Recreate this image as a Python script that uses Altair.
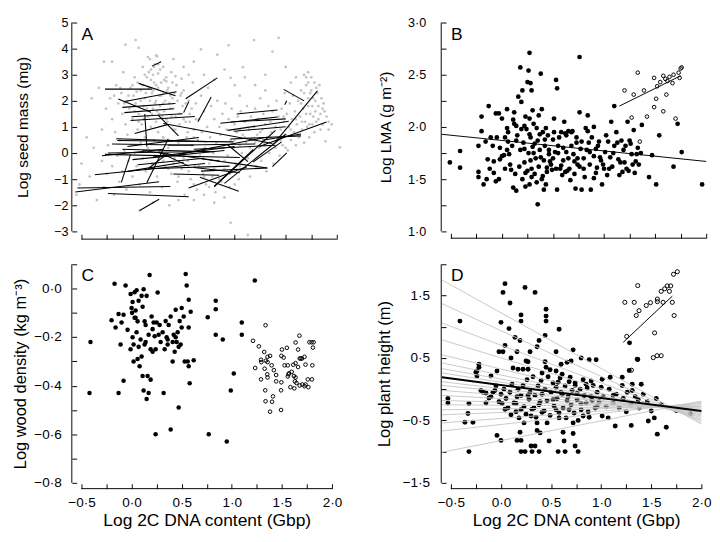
import altair as alt
import pandas as pd

FONT = "Liberation Sans"

# ---------------- Panel A: seed mass ----------------
a_grey = [
    (-0.45,0.6),(-0.5,-0.4),(-0.52,-1.2),(-0.55,-1.6),(-0.42,-0.9),(-0.38,0.2),(-0.35,-1.8),(-0.33,2.5),(-0.3,0.9),(-0.3,-0.3),
    (-0.28,-1.3),(-0.26,1.7),(-0.25,-0.8),(-0.24,0.3),(-0.22,2.1),(-0.2,1.3),(-0.2,-0.5),(-0.18,-1.6),(-0.17,0.8),(-0.16,2.6),
    (-0.15,-0.1),(-0.14,1.9),(-0.13,-1.1),(-0.12,0.5),(-0.11,2.3),(-0.1,1.5),(-0.1,-0.7),(-0.09,3.1),(-0.08,0.1),(-0.07,1.1),
    (-0.06,-1.4),(-0.05,2.0),(-0.05,0.7),(-0.04,-0.3),(-0.03,1.7),(-0.02,2.5),(-0.01,0.3),(0.0,-0.9),(0.0,1.3),(0.01,2.2),
    (0.02,0.0),(0.03,1.9),(0.04,-0.5),(0.05,2.7),(0.05,0.9),(0.06,1.5),(0.07,-1.2),(0.08,2.4),(0.08,0.4),(0.09,1.1),
    (0.1,3.3),(0.1,-0.2),(0.11,1.8),(0.12,2.1),(0.12,0.6),(0.13,-0.7),(0.14,2.9),(0.15,1.4),(0.15,0.2),(0.16,2.5),
    (0.17,-1.5),(0.17,3.6),(0.18,1.0),(0.19,2.3),(0.19,-0.4),(0.2,3.0),(0.2,1.7),(0.21,0.5),(0.21,2.7),(0.22,3.4),
    (0.22,-0.1),(0.23,2.0),(0.23,1.2),(0.24,3.7),(0.24,-0.9),(0.25,2.5),(0.25,0.8),(0.26,1.5),(0.27,3.2),(0.27,0.1),
    (0.28,2.2),(0.29,-1.3),(0.3,1.9),(0.3,0.6),(0.31,2.8),(0.32,-0.5),(0.33,1.3),(0.34,2.4),(0.35,0.2),(0.36,-2.0),
    (0.37,1.7),(0.38,-0.8),(0.39,2.1),(0.4,0.9),(0.41,-0.2),(0.42,1.4),(0.43,2.6),(0.44,-1.1),(0.45,0.4),(0.46,1.1),
    (0.47,2.2),(0.48,-0.6),(0.49,1.8),(0.5,0.0),(0.5,2.4),(0.51,-1.6),(0.52,1.2),(0.53,0.6),(0.54,-0.3),(0.55,2.0),
    (0.56,1.5),(0.57,-1.0),(0.58,0.3),(0.59,2.7),(0.6,0.9),(0.61,-0.5),(0.62,1.9),(0.63,-1.4),(0.64,0.5),(0.65,1.3),
    (0.66,-0.1),(0.67,2.2),(0.68,0.8),(0.69,-0.8),(0.7,1.6),(0.71,0.2),(0.72,-1.2),(0.73,1.0),(0.74,2.5),(0.75,-0.4),
    (0.76,0.6),(0.77,1.8),(0.78,-0.9),(0.79,0.0),(0.8,1.3),(0.81,-1.5),(0.82,0.4),(0.83,2.0),(0.84,-0.3),(0.85,1.0),
    (0.86,0.7),(0.87,-1.1),(0.88,1.5),(0.89,0.2),(0.9,-0.6),(0.91,1.9),(0.92,0.9),(0.93,-0.1),(0.94,1.3),(0.95,-1.3),
    (0.96,0.5),(0.97,1.7),(0.98,-0.7),(0.99,0.2),(1.0,1.1),(1.01,-0.4),(1.02,0.8),(1.03,1.4),(1.04,-1.0),(1.05,0.3),
    (1.06,1.6),(1.07,0.0),(1.08,0.7),(1.09,-0.6),(1.1,1.2),(1.11,0.4),(1.12,1.8),(1.13,-0.2),(1.14,0.9),(1.15,-0.9),
    (1.16,1.4),(1.17,0.5),(1.18,0.1),(1.19,1.0),(1.2,1.7),(1.21,-0.5),(1.22,0.7),(1.23,1.3),(1.24,0.2),(1.25,2.1),
    (1.26,-0.3),(1.27,0.9),(1.28,1.5),(1.29,0.4),(1.3,1.1),(1.31,-0.7),(1.32,0.6),(1.33,1.8),(1.34,0.0),(1.35,1.2),
    (1.36,0.8),(1.37,1.6),(1.38,-0.4),(1.39,0.4),(1.4,1.0),(1.41,2.0),(1.42,0.6),(1.43,1.4),(1.44,-0.1),(1.45,0.9),
    (1.46,1.7),(1.47,0.3),(1.48,1.2),(1.49,2.3),(1.5,0.7),(1.51,1.5),(1.52,0.1),(1.53,1.0),(1.54,1.9),(1.55,0.5),
    (1.56,1.3),(1.57,2.2),(1.58,0.8),(1.59,1.6),(1.6,0.3),(1.61,1.1),(1.62,2.0),(1.63,0.6),(1.64,1.4),(1.65,2.4),
    (1.66,0.9),(1.67,1.7),(1.68,0.4),(1.69,1.2),(1.7,2.6),(1.71,1.0),(1.72,1.8),(1.73,0.6),(1.74,1.5),(1.75,2.9),
    (1.76,1.1),(1.77,2.1),(1.78,0.8),(1.79,1.6),(1.8,2.5),(1.82,1.3),(1.84,0.9),(1.86,1.7),(1.89,0.45),(1.92,1.2),
    (2.03,0.22),(0.96,-2.67),(1.13,-3.14),(0.07,-2.2),(0.2,-1.9),(0.45,-1.8),(-0.4,2.1),(-0.2,3.5),(0.83,3.77),(0.94,4.13),
    (1.19,4.33),(1.43,4.41),(1.37,3.89),(1.08,3.29),(0.96,2.88),(1.2,2.6),(1.3,2.4),(1.05,2.2),(0.67,3.97),(0.6,3.5),
    (1.55,2.7),(1.6,2.9),(1.68,3.0),(1.72,2.7),(1.74,2.3),(-0.28,3.5),(-0.07,4.15),(0.03,4.33),(0.06,4.03),(0.15,3.68),
    (0.23,3.74),(0.48,2.85),(0.38,3.1),(0.42,2.95),(0.33,2.75),(0.3,3.3),(0.18,3.2),(0.25,3.05),(0.12,3.0),(0.02,2.9),
    (-0.18,2.2),(-0.12,2.5),(-0.08,1.9),(-0.04,2.2),(0.0,2.6),(0.02,1.6),(0.04,2.35),(0.06,1.2),(0.08,2.0),(0.1,2.6),
    (0.11,1.3),(0.13,2.3),(0.14,1.7),(0.16,3.1),(0.17,2.0),(0.18,2.8),(0.19,1.5),(0.2,2.4),(0.21,3.3),(0.22,1.9),
    (0.23,2.6),(0.24,1.6),(0.25,3.4),(0.26,2.2),(0.27,1.8),(0.28,2.7),(0.29,1.4),(0.3,2.3),(0.31,1.6),(0.32,2.0),
    (0.33,2.9),(0.34,1.2),(0.35,2.5),(0.36,1.9),(0.37,2.2),(0.38,1.4),(0.39,2.7),(0.4,1.7),(0.41,2.3),(0.42,0.9),
    (0.44,2.0),(0.46,1.5),(0.48,2.3),(0.5,1.3),(0.52,1.9),(0.54,0.8),(0.56,1.2),(0.58,1.7),(0.6,0.6),(0.62,1.3),
    (0.3,-0.3),(0.35,-0.6),(0.4,-0.4),(0.45,-0.9),(0.5,-0.2),(0.55,-0.7),(0.6,-1.2),(0.65,-0.5),(0.7,-0.9),(0.75,-1.3),
    (0.8,-0.6),(0.85,-1.0),(0.9,-0.3),(0.95,-0.8),(1.0,-1.2),(1.05,-0.5),(0.7,-1.6),(0.8,-1.9),(0.6,-1.8),(0.9,-1.7),
    (1.5,0.2),(1.55,0.9),(1.6,1.3),(1.62,0.7),(1.65,1.9),(1.66,1.2),(1.68,2.3),(1.7,1.5),(1.72,2.1),(1.73,1.1),
    (1.75,2.4),(1.76,1.8),(1.77,1.4),(1.78,2.7),(1.79,2.0),(1.8,1.2),(1.81,2.3),(1.82,1.8),(1.83,2.6),(1.84,1.5),
    (1.85,2.1),(1.86,1.1),(1.87,1.9),(1.88,1.6),(1.9,1.4),(1.92,0.9),(1.95,1.1),(1.72,3.1),(1.7,2.9),(1.45,0.5),
    (1.4,0.2),(1.48,1.4),(1.35,0.6),(1.3,0.3),(1.25,0.8),(1.2,0.4),(1.15,0.2),(1.1,0.6),(1.05,0.9),(1.0,0.5),
    (0.5,3.3),(0.7,3.0),(0.9,3.2),(1.0,2.6),(0.55,3.0),(0.8,2.8),(1.1,2.9),(1.3,3.0),(1.5,3.3),(0.4,3.6),
]

a_segs = [
    (-0.27,2.45,0.19,2.45),(0.06,2.67,0.42,2.2),(0.19,3.33,0.28,3.5),(-0.09,1.97,0.43,2.35),(-0.1,1.75,0.42,1.9),
    (-0.08,1.55,0.4,1.7),(-0.02,1.25,0.61,1.4),(0.12,1.5,0.14,0.25),(0.25,1.45,0.45,0.66),(0.52,2.08,0.83,2.88),
    (0.5,1.55,0.55,1.97),(0.64,1.2,0.77,2.15),(-0.15,0.48,0.99,0.43),(-0.27,-0.05,1.05,-0.17),(-0.54,-1.34,0.37,-1.28),
    (-0.56,-1.49,0.26,-1.1),(-0.24,-1.55,0.55,-1.67),(0.07,-2.2,0.26,-1.77),(-0.37,-0.83,0.71,-0.4),(-0.11,-1.12,-0.02,-0.05),
    (0.55,-1.34,1.12,-0.52),(0.66,-0.93,1.04,-1.46),(0.8,-1.28,1.18,0.13),(0.9,-1.16,1.5,0.72),(0.67,-0.22,1.32,-0.57),
    (0.99,0.84,1.5,1.01),(1.02,1.5,1.42,1.65),(0.96,1.19,1.5,1.31),(1.48,2.44,1.68,2.0),(1.49,1.85,1.51,2.0),
    (1.4,0.43,1.81,2.38),(1.24,0.25,1.9,1.19),(1.37,-0.52,1.51,0.01),(1.18,-0.34,1.46,0.43),(0.3,1.13,1.37,0.37),
    (0.96,0.54,1.65,0.66),(-0.14,2.07,0.18,1.56),(-0.01,1.39,0.49,1.51),(0.02,0.75,0.35,1.1),(-0.16,0.55,0.73,0.44),
    (-0.24,0.0,0.73,0.06),(0.14,-1.14,0.35,0.55),(0.16,-0.57,0.35,0.0),(0.86,1.14,1.42,1.38),(0.93,0.87,1.53,1.22),
    (0.8,-1.28,1.4,0.87),(0.67,-0.69,1.32,-0.57),(0.93,0.32,1.13,-0.33),(1.27,0.49,1.65,0.73),(-0.2,0.35,0.6,0.3),
    (-0.1,0.15,0.8,0.05),(0.0,-0.25,0.9,0.1),(0.05,-0.45,0.7,-0.2),(-0.05,0.25,0.65,0.6),(0.1,0.1,0.85,-0.3),
    (0.2,-0.15,1.0,0.25),(0.35,0.3,1.2,0.35),(-0.3,-0.1,0.3,0.15),(0.15,-0.6,0.95,-0.5),(0.45,-0.05,1.3,0.6),
    (0.6,0.15,1.4,0.3),(0.25,0.05,0.55,-0.5),(-0.05,-0.7,0.5,-0.35),(0.4,-0.8,0.85,-0.85),(0.6,-0.55,1.05,-0.75),
]

# ---------------- Panel B: LMA ----------------
b_filled = [
    (-0.51,1.66),(-0.41,1.61),(-0.41,1.77),(-0.23,1.82),(-0.23,1.57),(-0.23,1.52),(-0.2,2.1),(-0.2,1.96),(-0.18,1.45),(-0.16,1.86),
    (-0.15,1.5),(-0.13,2.2),(-0.14,1.69),(-0.11,1.9),(-0.09,1.82),(-0.08,1.56),(-0.08,1.67),(-0.06,1.48),(-0.06,2.13),(-0.03,2.13),
    (-0.02,1.8),(-0.02,1.69),(0.0,2.08),(0.02,1.73),(0.03,1.9),(0.05,1.99),(0.05,2.17),(0.06,1.86),(0.07,1.74),(0.09,1.59),
    (0.11,1.42),(0.14,1.39),(0.12,2.14),(0.11,2.07),(0.14,2.01),(0.14,1.87),(0.16,2.29),(0.18,2.57),(0.19,2.24),(0.2,2.35),
    (0.22,2.01),(0.22,1.79),(0.23,1.56),(0.23,1.43),(0.25,2.43),(0.26,2.54),(0.27,2.71),(0.27,2.08),(0.28,2.42),(0.29,2.35),
    (0.27,1.93),(0.28,1.68),(0.29,1.52),(0.3,2.16),(0.31,1.75),(0.32,1.84),(0.34,1.99),(0.35,1.26),(0.36,2.11),(0.37,1.93),
    (0.38,2.51),(0.38,1.71),(0.39,2.17),(0.4,1.53),(0.41,1.4),(0.42,1.88),(0.43,1.99),(0.44,1.61),(0.46,1.78),(0.47,1.67),
    (0.49,1.59),(0.5,1.88),(0.51,2.08),(0.52,1.76),(0.53,2.45),(0.54,2.37),(0.54,1.4),(0.55,1.82),(0.57,1.6),(0.58,1.95),
    (0.59,1.54),(0.6,1.68),(0.61,2.05),(0.62,1.94),(0.63,1.76),(0.64,1.58),(0.65,1.96),(0.67,1.49),(0.68,1.82),(0.69,1.96),
    (0.71,1.67),(0.72,1.41),(0.73,1.85),(0.74,1.64),(0.76,2.67),(0.76,2.14),(0.77,1.79),(0.78,1.4),(0.8,1.6),(0.82,1.99),
    (0.84,2.11),(0.84,1.96),(0.85,1.85),(0.86,1.76),(0.87,1.4),(0.9,1.51),(0.9,2.0),(0.92,1.79),(0.93,1.61),(0.95,1.86),
    (0.96,1.71),(0.98,1.45),(0.99,1.64),(1.01,1.76),(1.03,1.54),(1.04,1.86),(1.06,1.71),(1.07,2.05),(1.08,1.62),(1.1,2.2),
    (1.1,1.82),(1.12,1.95),(1.14,1.69),(1.15,1.54),(1.17,1.87),(1.18,1.57),(1.2,1.66),(1.21,1.82),(1.23,2.05),(1.24,1.58),
    (1.25,1.87),(1.27,1.74),(1.28,1.64),(1.29,1.97),(1.31,1.67),(1.32,1.74),(1.34,1.64),(1.36,1.75),(1.37,2.02),(1.44,1.52),
    (1.47,1.73),(1.51,1.45),(1.54,1.92),(1.68,1.62),(1.72,2.03),(1.76,1.76),(1.96,1.45),
    (0.0,1.72),(0.03,1.6),(0.06,1.95),(0.08,1.64),(0.1,1.82),(0.13,1.55),(0.15,1.92),(0.17,1.62),(0.18,1.78),(0.2,1.5),
    (0.21,1.85),(0.22,1.66),(0.24,1.98),(0.25,1.58),(0.26,1.75),(0.28,1.9),(0.29,1.6),(0.3,1.81),(0.31,2.03),(0.32,1.55),
    (0.33,1.7),(0.35,1.87),(0.36,1.62),(0.37,1.78),(0.39,1.5),(0.4,1.95),(0.41,1.68),(0.42,1.82),(0.44,1.57),(0.45,1.92),
    (0.46,1.74),(0.48,1.64),(0.5,1.7),(0.51,1.95),(0.53,1.6),(0.55,1.75),(0.56,1.9),(0.58,1.63),(0.6,1.8),(0.62,1.57),
    (0.63,1.92),(0.65,1.7),(0.66,1.6),(0.68,1.95),(0.7,1.74),(0.71,1.55),(0.73,1.9),(0.74,1.7),(0.76,1.62),(0.78,1.86),
    (0.8,1.7),(0.81,1.52),(0.83,1.78),(0.86,1.64),(0.88,1.9),(0.9,1.72),(0.92,1.56),(0.94,1.82),(0.97,1.68),(1.0,1.6),
    (1.02,1.92),(1.05,1.6),(1.09,1.75),(1.13,1.85),(1.16,1.66),(1.19,1.78),(1.22,1.6),(1.26,1.84),(1.3,1.56),(1.33,1.8),
    (-0.05,1.9),(-0.12,1.6),(-0.03,1.5),(0.05,1.78),(0.12,2.03),(0.19,1.98),(0.23,2.1),(0.27,1.45),(0.34,1.47),(0.43,1.45),
]
b_open = [
    (1.2,2.35),(1.29,2.31),(1.33,2.52),(1.39,2.35),(1.27,2.09),(1.35,1.86),(1.42,2.1),(1.49,2.47),(1.49,2.19),(1.51,2.27),
    (1.52,2.39),(1.55,2.43),(1.58,2.15),(1.58,2.49),(1.6,2.46),(1.62,2.44),(1.61,2.31),(1.64,2.48),(1.67,2.42),(1.68,2.5),
    (1.7,2.08),(1.73,2.52),(1.74,2.47),(1.75,2.56),(1.76,2.57),
]
b_fit_all = [(-0.59, 1.93, 2.0, 1.67)]
b_fit_open = [(1.15, 2.2, 1.75, 2.49)]

# ---------------- Panel C: wood density ----------------
c_filled = [
    (-0.42,-0.43),(-0.41,-0.22),(-0.17,0.02),(-0.2,-0.13),(-0.16,-0.16),(-0.13,-0.105),(-0.13,-0.43),(-0.11,-0.23),(-0.1,-0.14),(-0.08,-0.38),
    (-0.08,-0.108),(-0.06,0.013),(-0.04,-0.17),(-0.01,-0.022),(-0.01,-0.25),(0.0,-0.08),(0.005,-0.1),(0.01,-0.055),(0.01,-0.2),(0.02,-0.3),
    (0.02,-0.23),(0.03,-0.015),(0.04,-0.12),(0.04,-0.09),(0.05,-0.007),(0.05,-0.18),(0.06,-0.29),(0.06,-0.135),(0.07,-0.24),(0.07,-0.05),
    (0.08,-0.32),(0.09,-0.21),(0.1,-0.28),(0.1,-0.03),(0.11,-0.075),(0.11,-0.36),(0.12,-0.003),(0.12,-0.42),(0.13,-0.135),(0.13,-0.23),
    (0.14,-0.15),(0.15,-0.455),(0.15,-0.03),(0.16,-0.36),(0.17,-0.19),(0.17,-0.43),(0.18,0.056),(0.19,-0.375),(0.2,-0.115),(0.21,-0.26),
    (0.21,-0.167),(0.22,-0.14),(0.23,-0.196),(0.24,-0.6),(0.24,-0.25),(0.26,-0.016),(0.27,-0.19),(0.28,-0.15),(0.29,-0.22),(0.31,-0.18),
    (0.32,-0.43),(0.33,-0.25),(0.34,-0.134),(0.35,-0.2),(0.36,-0.23),(0.37,-0.15),(0.39,-0.58),(0.39,-0.115),(0.41,-0.3),(0.42,-0.19),
    (0.43,-0.26),(0.44,-0.087),(0.45,-0.22),(0.46,-0.18),(0.47,-0.49),(0.48,-0.134),(0.49,-0.23),(0.5,-0.08),(0.5,-0.16),(0.52,-0.115),
    (0.53,-0.3),(0.54,0.06),(0.55,0.013),(0.56,-0.3),(0.57,-0.16),(0.57,-0.32),(0.57,-0.046),(0.58,-0.39),(0.59,-0.095),(0.62,-0.295),
    (0.76,-0.118),(0.77,-0.6),(0.84,-0.05),(0.84,-0.085),(0.84,-0.19),(0.91,-0.21),(0.95,-0.63),(0.99,-0.42),(1.02,-0.35),(1.1,-0.14),
    (1.1,-0.19),(1.23,0.033),(0.14,-0.22),(0.19,-0.25),(0.25,-0.14),(0.36,-0.21),(0.41,-0.22),(0.44,-0.2),(0.47,-0.24),(0.03,-0.12),
]
c_open = [
    (1.337,-0.151),(1.212,-0.215),(1.27,-0.238),(1.324,-0.261),(1.292,-0.293),(1.295,-0.303),(1.34,-0.297),(1.357,-0.281),(1.357,-0.303),(1.382,-0.277),
    (1.398,-0.316),(1.234,-0.327),(1.328,-0.33),(1.42,-0.336),(1.443,-0.356),(1.354,-0.353),(1.357,-0.366),(1.292,-0.374),(1.443,-0.382),(1.495,-0.386),
    (1.334,-0.419),(1.492,-0.419),(1.411,-0.444),(1.337,-0.464),(1.402,-0.466),(1.382,-0.507),(1.492,-0.5),(1.501,-0.251),(1.55,-0.244),(1.518,-0.284),
    (1.495,-0.277),(1.527,-0.316),(1.559,-0.316),(1.566,-0.353),(1.559,-0.362),(1.572,-0.349),(1.598,-0.343),(1.614,-0.314),(1.637,-0.307),(1.662,-0.251),
    (1.637,-0.222),(1.675,-0.194),(1.662,-0.323),(1.678,-0.288),(1.688,-0.288),(1.701,-0.288),(1.726,-0.281),(1.736,-0.313),(1.62,-0.36),(1.637,-0.366),
    (1.63,-0.382),(1.646,-0.389),(1.624,-0.411),(1.585,-0.406),(1.678,-0.399),(1.704,-0.395),(1.726,-0.402),(1.736,-0.395),(1.765,-0.406),(1.759,-0.374),
    (1.8,-0.374),(1.804,-0.316),(1.775,-0.221),(1.797,-0.221),(1.817,-0.221),(1.81,-0.243),
]

# ---------------- Panel D: plant height ----------------
d_filled = [
    (-0.41,1.09),(-0.32,-1.0),(-0.04,-0.74),(0.0,-0.82),(0.04,1.69),(0.02,1.55),(0.09,1.38),(0.24,1.63),(0.34,1.55),(0.45,1.28),
    (0.2,1.19),(0.0,1.07),(0.08,0.97),(0.2,1.09),(0.45,1.17),(0.45,1.09),(0.58,0.96),(0.44,0.86),(0.38,0.78),(0.19,0.78),
    (0.14,0.83),(-0.02,0.6),(0.02,0.6),(0.04,0.7),(0.16,0.6),(0.29,0.6),(0.36,0.68),(0.66,0.43),(0.72,0.63),(0.27,0.44),
    (0.44,0.44),(0.8,0.5),(0.88,0.47),(0.95,0.47),(1.09,0.19),(1.21,0.19),(1.12,-0.1),(1.21,0.06),(1.31,0.08),(1.28,0.3),
    (1.36,0.48),(1.4,0.08),(-0.22,0.4),(-0.24,0.29),(-0.24,0.21),(-0.04,0.29),(-0.1,0.21),(0.12,0.34),(0.17,0.32),(0.22,0.32),
    (0.27,0.32),(0.41,0.26),(0.49,0.31),(0.55,0.29),(0.61,0.24),(0.69,0.19),(0.57,0.11),(0.74,0.06),(0.85,0.08),(0.9,0.13),
    (1.01,0.16),(1.0,0.03),(1.31,-0.02),(-0.53,-0.15),(-0.53,-0.22),(-0.32,-0.23),(-0.33,-0.39),(-0.36,-0.53),(-0.28,-0.53),(-0.18,-0.05),
    (-0.15,-0.22),(-0.1,-0.12),(-0.06,-0.02),(0.01,-0.23),(0.04,-0.32),(0.1,-0.41),(0.15,-0.23),(0.16,-0.12),(0.2,-0.33),(0.23,-0.54),
    (0.27,-0.1),(0.3,-0.43),(0.33,-0.3),(0.36,-0.54),(0.39,-0.2),(0.41,-0.37),(0.46,-0.54),(0.52,-0.17),(0.55,-0.33),(0.58,-0.46),
    (0.6,-0.05),(0.66,-0.18),(0.68,-0.33),(0.72,-0.54),(0.76,-0.07),(0.8,-0.23),(0.82,-0.43),(0.87,-0.36),(0.91,-0.18),(0.96,-0.28),
    (1.01,-0.43),(1.07,-0.46),(1.14,-0.59),(1.25,-0.36),(1.3,-0.58),(1.37,-0.17),(1.47,-0.51),(1.53,-0.46),(1.56,-0.72),(1.65,-0.61),
    (1.75,-0.34),(1.89,-0.39),(0.36,-0.66),(0.39,-0.7),(0.2,-1.0),(0.24,-1.0),(0.31,-1.0),(0.38,-1.0),(0.3,-0.91),(0.34,-0.91),
    (0.57,-1.0),(0.64,-1.0),(0.77,-1.0),(0.74,-0.91),(0.62,-0.69),(0.63,-0.83),(0.19,-0.69),(0.16,-0.82),(0.2,-0.82),(0.72,-0.71),
    (0.48,-0.83),(1.283,0.742),(1.365,0.474),
    (-0.2,-0.02),(-0.15,-0.06),(-0.12,-0.14),(-0.08,-0.05),(-0.05,0.05),(-0.02,-0.2),(0.0,-0.08),(0.03,0.0),(0.05,-0.15),(0.07,-0.3),
    (0.09,-0.05),(0.11,0.08),(0.13,-0.22),(0.15,-0.36),(0.17,0.0),(0.18,-0.46),(0.2,-0.1),(0.22,0.06),(0.23,-0.28),(0.25,-0.4),
    (0.26,0.15),(0.28,-0.16),(0.29,-0.05),(0.31,-0.32),(0.32,0.2),(0.34,-0.1),(0.35,-0.45),(0.37,0.05),(0.38,-0.25),(0.4,0.14),
    (0.41,-0.08),(0.43,-0.35),(0.44,0.0),(0.46,-0.18),(0.47,0.2),(0.49,-0.42),(0.5,-0.05),(0.52,0.1),(0.53,-0.27),(0.55,0.03),
    (0.56,-0.15),(0.58,-0.38),(0.59,0.18),(0.61,-0.08),(0.62,-0.3),(0.64,0.05),(0.65,-0.46),(0.67,-0.12),(0.68,0.12),(0.7,-0.25),
    (0.71,-0.02),(0.73,-0.38),(0.74,0.1),(0.76,-0.17),(0.77,-0.5),(0.79,0.0),(0.8,-0.33),(0.82,0.15),(0.83,-0.1),(0.85,-0.22),
    (0.86,0.02),(0.88,-0.45),(0.9,-0.12),(0.92,0.06),(0.94,-0.3),(0.96,-0.05),(0.98,-0.2),(1.02,-0.12),(1.05,-0.28),(1.08,0.0),
    (1.12,-0.22),(1.15,-0.08),(1.18,-0.3),(1.22,-0.15),(1.26,-0.05),(1.3,-0.24),(1.34,-0.12),(1.38,-0.3),(1.42,-0.08),(1.46,-0.2),
    (1.5,-0.35),(1.55,-0.15),(1.6,-0.25),(-0.25,0.27),(-0.22,0.35),(0.45,0.35),(0.6,0.4),(0.7,0.45),(0.55,0.6),(0.25,0.45),(0.1,0.5),
]
d_open = [
    (1.365,1.659),(1.236,1.391),(1.33,1.391),(1.35,1.18),(1.378,1.257),(1.45,1.34),(1.492,1.386),(1.561,1.443),(1.561,1.402),(1.599,1.567),
    (1.634,1.608),(1.659,1.654),(1.694,1.654),(1.681,1.567),(1.618,1.391),(1.71,1.391),(1.728,1.18),(1.722,1.84),(1.76,1.881),(1.533,0.902),
    (1.52,0.505),(1.558,0.536),(1.599,0.536),(1.255,0.845),(1.302,0.304),
]
# grey per-group fits: (x start, y start, x end, y end)
d_group_fits = [
    (-0.59,1.75,2.0,-0.56),(-0.59,1.37,2.0,-0.53),(-0.59,1.06,2.0,-0.50),(-0.59,0.79,2.0,-0.48),(-0.59,0.55,2.0,-0.45),
    (-0.59,0.42,2.0,-0.43),(-0.59,0.33,2.0,-0.41),(-0.59,0.26,2.0,-0.39),(-0.59,0.12,2.0,-0.37),(-0.59,0.06,2.0,-0.35),
    (-0.59,-0.02,2.0,-0.34),(-0.59,-0.10,2.0,-0.32),(-0.59,-0.18,2.0,-0.30),(-0.59,-0.25,2.0,-0.28),(-0.59,-0.33,2.0,-0.27),
    (-0.59,-0.41,2.0,-0.25),(-0.59,-0.54,2.0,-0.23),(-0.59,-0.67,2.0,-0.21),(-0.59,-1.01,2.0,-0.19),
]
d_fit_all = [(-0.59, 0.19, 2.0, -0.35)]
d_fit_open = [(1.22, 0.75, 1.71, 1.49)]

X_TICKS = [-0.5, -0.25, 0.0, 0.25, 0.5, 0.75, 1.0, 1.25, 1.5, 1.75, 2.0]
A_Y_TICKS = [-3, -2, -1, 0, 1, 2, 3, 4, 5]
B_Y_TICKS = [1.0, 1.25, 1.5, 1.75, 2.0, 2.25, 2.5, 2.75, 3.0]
C_Y_TICKS = [-0.8, -0.7, -0.6, -0.5, -0.4, -0.3, -0.2, -0.1, 0.0, 0.1]
D_Y_TICKS = [-1.5, -1.0, -0.5, 0.0, 0.5, 1.0, 1.5, 2.0]

DOT = "replace(format(datum.value, '.1f'), '.', '·')"


def pts(rows):
    return pd.DataFrame(rows, columns=["x", "y"])


def segs(rows):
    return pd.DataFrame(rows, columns=["x1", "y1", "x2", "y2"])


ONE = pd.DataFrame({"k": [0]})


def make_panel(W, H, ydom, xaxis, yaxis, layers_spec, letter, letter_y, x_line_off):
    xs = alt.Scale(domain=[-0.5, 2.0], nice=False, zero=False)
    ys = alt.Scale(domain=ydom, nice=False, zero=False)
    layers = []
    for kind, df, mark_kw in layers_spec:
        if kind == "pt":
            layers.append(
                alt.Chart(df).mark_point(**mark_kw).encode(
                    x=alt.X("x:Q", scale=xs, axis=xaxis),
                    y=alt.Y("y:Q", scale=ys, axis=yaxis),
                )
            )
        else:
            layers.append(
                alt.Chart(df).mark_rule(**mark_kw).encode(
                    x=alt.X("x1:Q", scale=xs, axis=xaxis),
                    y=alt.Y("y1:Q", scale=ys, axis=yaxis),
                    x2="x2:Q",
                    y2="y2:Q",
                )
            )
    # axis lines (ticks point inward towards the data, R style)
    layers.append(
        alt.Chart(ONE).mark_rule(color="black", strokeWidth=1).encode(
            x=alt.value(-10), y=alt.value(0), y2=alt.value(H)
        )
    )
    layers.append(
        alt.Chart(ONE).mark_rule(color="black", strokeWidth=1).encode(
            x=alt.value(0), x2=alt.value(W), y=alt.value(H + x_line_off)
        )
    )
    layers.append(
        alt.Chart(ONE).mark_text(
            text=letter, align="left", baseline="alphabetic", fontSize=18, font=FONT, color="black"
        ).encode(x=alt.value(0), y=alt.value(letter_y))
    )
    return alt.layer(*layers).properties(width=W, height=H)


def x_axis(show, xoff):
    if show:
        return alt.Axis(
            values=X_TICKS, offset=xoff - 5, tickSize=5, labelPadding=7,
            labelFontSize=14, titleFontSize=18,
            labelExpr=f"abs(datum.value*2 - round(datum.value*2)) < 0.001 ? {DOT} : ''",
            title="Log 2C DNA content (Gbp)", titlePadding=3,
        )
    return alt.Axis(values=X_TICKS, offset=xoff - 5, tickSize=5, labels=False, title=None)


HT = 216
HB = 226
WT = 264
WB = 259

pt_fill = dict(shape="circle", filled=True, color="black", opacity=1, size=24)
pt_open = dict(shape="circle", filled=False, color="black", opacity=1, size=14, strokeWidth=1)

A = make_panel(
    WT, HT, [-3, 5], x_axis(False, 8),
    alt.Axis(values=A_Y_TICKS, offset=5, tickSize=5, format="d", labelPadding=4,
             labelFontSize=13, titleFontSize=16,
             title="Log seed mass (mg)", titlePadding=24),
    [
        ("pt", pts(a_grey), dict(shape="circle", filled=True, color="#c4c4c4", opacity=1, size=8)),
        ("seg", segs(a_segs), dict(color="black", strokeWidth=1.1)),
    ],
    "A", 18, 8,
)

B = make_panel(
    WT, HT, [1.0, 3.0], x_axis(False, 7),
    alt.Axis(values=B_Y_TICKS, offset=5, tickSize=5, labelPadding=16,
             labelFontSize=13, titleFontSize=16,
             labelExpr=f"abs(datum.value*2 - round(datum.value*2)) < 0.001 ? {DOT} : ''",
             title="Log LMA (g m⁻²)", titlePadding=15),
    [
        ("pt", pts(b_filled), pt_fill),
        ("pt", pts(b_open), pt_open),
        ("seg", segs(b_fit_all), dict(color="black", strokeWidth=1)),
        ("seg", segs(b_fit_open), dict(color="black", strokeWidth=1)),
    ],
    "B", 18, 7,
)

C = make_panel(
    WB, HB, [-0.8, 0.1], x_axis(True, 6),
    alt.Axis(values=C_Y_TICKS, offset=5, tickSize=5, labelPadding=11,
             labelFontSize=14, titleFontSize=17,
             labelExpr=f"abs(datum.value*5 - round(datum.value*5)) < 0.001 ? {DOT} : ''",
             title="Log wood density (kg m⁻³)", titlePadding=4),
    [
        ("pt", pts(c_filled), dict(shape="circle", filled=True, color="black", opacity=1, size=22)),
        ("pt", pts(c_open), pt_open),
    ],
    "C", 17, 6,
)

D = make_panel(
    WB, HB, [-1.5, 2.0], x_axis(True, 6),
    alt.Axis(values=D_Y_TICKS, offset=5, tickSize=5, labelPadding=12,
             labelFontSize=14, titleFontSize=17,
             labelExpr=f"abs(datum.value - round(datum.value)) > 0.25 ? {DOT} : ''",
             title="Log plant height (m)", titlePadding=9),
    [
        ("pt", pts(d_filled), dict(shape="circle", filled=True, color="black", opacity=1, size=26)),
        ("seg", segs(d_group_fits), dict(color="#c8c8c8", strokeWidth=1)),
        ("seg", segs(d_fit_all), dict(color="black", strokeWidth=2)),
        ("pt", pts(d_open), dict(shape="circle", filled=False, color="black", opacity=1, size=18, strokeWidth=1)),
        ("seg", segs(d_fit_open), dict(color="black", strokeWidth=1)),
    ],
    "D", 17, 6,
)

chart = alt.concat(
    A, B, C, D, columns=2, spacing={"row": 34, "column": 118}, bounds="flush"
).properties(
    padding={"top": 0, "left": 4, "right": 0, "bottom": 0}
).configure_view(strokeWidth=0).configure_axis(
    grid=False, domain=False, labelFlush=False,
    labelFont=FONT, titleFont=FONT,
    titleFontWeight="normal", labelColor="black", titleColor="black",
    tickColor="black", tickWidth=1,
)

chart.save("out.html", embed_options={"renderer": "svg", "actions": False})
